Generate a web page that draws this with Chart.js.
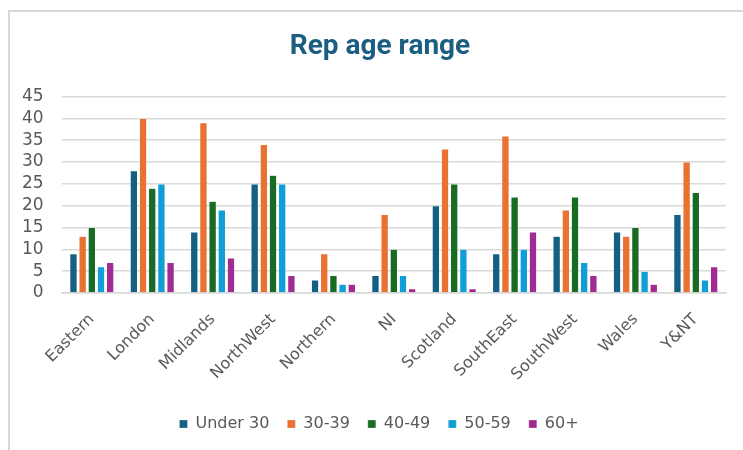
<!DOCTYPE html>
<html>
<head>
<meta charset="utf-8">
<script src="https://cdn.jsdelivr.net/npm/chart.js@4.4.1/dist/chart.umd.min.js"></script>
<style>
  html, body { margin: 0; padding: 0; background: #fff; }
  #frame { position: absolute; left: 8px; top: 10px; width: 800px; height: 500px; border: 2px solid #d9d9d9; }
  #wrap { position: absolute; left: 0; top: 0; width: 743px; height: 450px; }
</style>
</head>
<body>
<div id="frame"></div>
<div id="wrap"><canvas id="chart" width="743" height="450"></canvas></div>
<script>
// data
const regions = ['Eastern', 'London', 'Midlands', 'NorthWest', 'Northern', 'NI', 'Scotland', 'SouthEast', 'SouthWest', 'Wales', 'Y&NT'];
const under30 = [9, 28, 14, 25, 3, 4, 20, 9, 13, 14, 18];
const age30to39 = [13, 40, 39, 34, 9, 18, 33, 36, 19, 13, 30];
const age40to49 = [15, 24, 21, 27, 4, 10, 25, 22, 22, 15, 23];
const age50to59 = [6, 25, 19, 25, 2, 4, 10, 10, 7, 5, 3];
const age60plus = [7, 7, 8, 4, 2, 1, 1, 14, 4, 2, 6];
const yTicks = [0, 5, 10, 15, 20, 25, 30, 35, 40, 45];

const grey = '#595959';
const fontFam = "'DejaVu Sans', sans-serif";

function series(label, data, color) {
    return {
        label: label,
        data: data,
        backgroundColor: color,
        borderColor: 'rgba(255,255,255,0.5)',
        borderWidth: 0.5,
        barPercentage: 0.8,
        categoryPercentage: 0.76
    };
}

// title and legend in the reference sit a bit right of the canvas centre
const boxShift = {
    id: 'boxShift',
    afterLayout(chart) {
        chart.legend.left += 14;
        chart.legend.right += 14;
        chart.titleBlock.left += 15;
        chart.titleBlock.right += 15;
    }
};

new Chart(document.getElementById('chart'), {
    type: 'bar',
    data: {
        labels: regions,
        datasets: [
            series('Under 30', under30, '#156082'),
            series('30-39', age30to39, '#E97132'),
            series('40-49', age40to49, '#196B24'),
            series('50-59', age50to59, '#0F9ED5'),
            series('60+', age60plus, '#A02B93')
        ]
    },
    plugins: [boxShift],
    options: {
        responsive: false,
        animation: false,
        layout: { padding: { left: 4, right: 17, top: 30, bottom: 8 } },
        plugins: {
            title: {
                display: true,
                text: 'Rep age range',
                color: '#1b5e82',
                font: { family: "Roboto, sans-serif", size: 28, weight: 'bold' },
                padding: { top: 0, bottom: 33 }
            },
            legend: {
                position: 'bottom',
                labels: {
                    color: grey,
                    font: { family: fontFam, size: 16 },
                    boxWidth: 8,
                    boxHeight: 8,
                    padding: 18
                }
            },
            tooltip: { enabled: false }
        },
        scales: {
            x: {
                grid: { display: false },
                border: { display: true, color: '#d9d9d9', width: 1.5 },
                ticks: {
                    color: grey,
                    font: { family: fontFam, size: 16 },
                    minRotation: 45,
                    maxRotation: 45,
                    padding: 9
                },
                afterFit: function (scale) {
                    scale.height = 105;
                    scale.paddingLeft = 0;
                    scale.paddingRight = 0;
                }
            },
            y: {
                min: 0,
                max: 45,
                afterBuildTicks: function (scale) {
                    scale.ticks = yTicks.map(v => ({ value: v }));
                },
                grid: { color: '#d9d9d9', lineWidth: 1.5, drawTicks: false },
                border: { display: false },
                ticks: {
                    color: grey,
                    font: { family: fontFam, size: 17 },
                    padding: 18,
                    autoSkip: false
                }
            }
        }
    }
});
</script>
</body>
</html>
